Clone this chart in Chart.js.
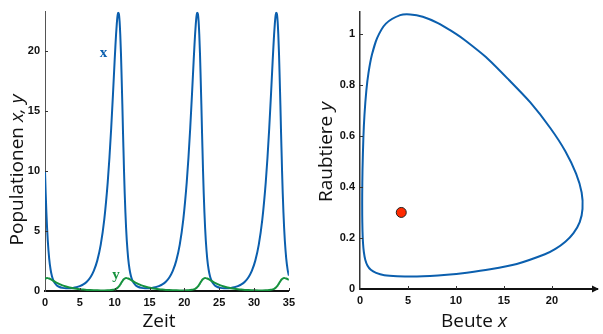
<!DOCTYPE html>
<html><head><meta charset="utf-8">
<script src="https://cdn.jsdelivr.net/npm/chart.js@4"></script>
<style>
html,body{margin:0;padding:0;background:#fff;}
#wrap{position:relative;width:603px;height:334px;overflow:hidden;background:#fff;}
#c1{position:absolute;left:0;top:0;}
#c2{position:absolute;left:300px;top:0;}
</style></head><body>
<div id="wrap">
<canvas id="c1" width="300" height="334"></canvas>
<canvas id="c2" width="303" height="334"></canvas>
</div>
<script>
// Zeit (time)
const time = [
 0, 0.1, 0.2, 0.3, 0.4, 0.6, 0.8, 1.0, 1.2, 1.4, 1.7, 2.0, 2.5, 3.0, 3.5, 4.0, 4.5, 5.0, 5.5, 6.0, 6.5, 7.0, 7.5, 8.0, 8.5, 9.0, 9.25, 9.5, 9.75, 10.0, 10.1, 10.2, 10.3, 10.4, 10.5, 10.6, 10.7, 10.8, 10.9, 11.0, 11.1, 11.2, 11.3,
 11.34, 11.44, 11.54, 11.64, 11.74, 11.94, 12.14, 12.34, 12.54, 12.74, 13.04, 13.34, 13.84, 14.34, 14.84, 15.34, 15.84, 16.34, 16.84, 17.34, 17.84, 18.34, 18.84, 19.34, 19.84, 20.34, 20.59, 20.84, 21.09, 21.34, 21.44, 21.54, 21.64, 21.74, 21.84, 21.94, 22.04, 22.14, 22.24, 22.34, 22.44, 22.54, 22.64,
 22.68, 22.78, 22.88, 22.98, 23.08, 23.28, 23.48, 23.68, 23.88, 24.08, 24.38, 24.68, 25.18, 25.68, 26.18, 26.68, 27.18, 27.68, 28.18, 28.68, 29.18, 29.68, 30.18, 30.68, 31.18, 31.68, 31.93, 32.18, 32.43, 32.68, 32.78, 32.88, 32.98, 33.08, 33.18, 33.28, 33.38, 33.48, 33.58, 33.68, 33.78, 33.88, 33.98,
 34.02, 34.12, 34.22, 34.32, 34.42, 34.62, 34.82, 35.0
];
// Beute x (prey)
const prey = [
 10, 8.124, 6.537, 5.233, 4.186, 2.700, 1.792, 1.235, 0.888, 0.665, 0.465, 0.353, 0.262, 0.230, 0.231, 0.258, 0.312, 0.404, 0.548, 0.774, 1.127, 1.676, 2.532, 3.866, 5.928, 9.060, 11.13, 13.57, 16.34, 19.27, 20.37, 21.40, 22.25, 22.90, 23.19, 23.10, 22.52, 21.40, 19.83, 17.75, 15.55, 13.12, 10.94,
 10, 8.124, 6.537, 5.233, 4.186, 2.700, 1.792, 1.235, 0.888, 0.665, 0.465, 0.353, 0.262, 0.230, 0.231, 0.258, 0.312, 0.404, 0.548, 0.774, 1.127, 1.676, 2.532, 3.866, 5.928, 9.060, 11.13, 13.57, 16.34, 19.27, 20.37, 21.40, 22.25, 22.90, 23.19, 23.10, 22.52, 21.40, 19.83, 17.75, 15.55, 13.12, 10.94,
 10, 8.124, 6.537, 5.233, 4.186, 2.700, 1.792, 1.235, 0.888, 0.665, 0.465, 0.353, 0.262, 0.230, 0.231, 0.258, 0.312, 0.404, 0.548, 0.774, 1.127, 1.676, 2.532, 3.866, 5.928, 9.060, 11.13, 13.57, 16.34, 19.27, 20.37, 21.40, 22.25, 22.90, 23.19, 23.10, 22.52, 21.40, 19.83, 17.75, 15.55, 13.12, 10.94,
 10, 8.124, 6.537, 5.233, 4.186, 2.700, 1.792, 1.279
];
// Raubtiere y (predator)
const predator = [
 1.000, 1.042, 1.067, 1.076, 1.073, 1.040, 0.984, 0.917, 0.848, 0.779, 0.682, 0.594, 0.469, 0.370, 0.291, 0.230, 0.181, 0.144, 0.115, 0.092, 0.075, 0.063, 0.054, 0.050, 0.049, 0.056, 0.064, 0.077, 0.098, 0.136, 0.157, 0.185, 0.219, 0.262, 0.314, 0.378, 0.452, 0.540, 0.631, 0.731, 0.818, 0.909, 0.975,
 1.000, 1.042, 1.067, 1.076, 1.073, 1.040, 0.984, 0.917, 0.848, 0.779, 0.682, 0.594, 0.469, 0.370, 0.291, 0.230, 0.181, 0.144, 0.115, 0.092, 0.075, 0.063, 0.054, 0.050, 0.049, 0.056, 0.064, 0.077, 0.098, 0.136, 0.157, 0.185, 0.219, 0.262, 0.314, 0.378, 0.452, 0.540, 0.631, 0.731, 0.818, 0.909, 0.975,
 1.000, 1.042, 1.067, 1.076, 1.073, 1.040, 0.984, 0.917, 0.848, 0.779, 0.682, 0.594, 0.469, 0.370, 0.291, 0.230, 0.181, 0.144, 0.115, 0.092, 0.075, 0.063, 0.054, 0.050, 0.049, 0.056, 0.064, 0.077, 0.098, 0.136, 0.157, 0.185, 0.219, 0.262, 0.314, 0.378, 0.452, 0.540, 0.631, 0.731, 0.818, 0.909, 0.975,
 1.000, 1.042, 1.067, 1.076, 1.073, 1.040, 0.984, 0.923
];
const timeTicks = [0, 5, 10, 15, 20, 25, 30, 35];
const popTicks = [0, 5, 10, 15, 20];
const preyTicks = [0, 5, 10, 15, 20];
const predTicks = [0, 0.2, 0.4, 0.6, 0.8, 1];
const equilibrium = [{x: 4.3, y: 0.3}];

const BLUE = '#0b5fae';
const GREEN = '#16923e';
const TICKFONT = {family: '"Liberation Sans", Arial, sans-serif', weight: 'bold', size: 11};
const TITLEFONT = '"Open Sans", "Noto Sans", sans-serif';

function setTicks(arr) { return s => { s.ticks = arr.map(v => ({value: v})); }; }

function drawMixed(ctx, parts, x, y, rotate) {
  ctx.save();
  ctx.translate(x, y);
  if (rotate) ctx.rotate(-Math.PI / 2);
  let total = 0;
  parts.forEach(p => { ctx.font = p.font; p.w = ctx.measureText(p.text).width; total += p.w; });
  let cx = -total / 2;
  ctx.textBaseline = 'alphabetic';
  ctx.textAlign = 'left';
  ctx.fillStyle = '#111';
  parts.forEach(p => { ctx.font = p.font; ctx.fillText(p.text, cx, 0); cx += p.w; });
  ctx.restore();
}

function innerTicks(chart, xt, yt) {
  const ctx = chart.ctx, xs = chart.scales.x, ys = chart.scales.y;
  const a = chart.chartArea;
  ctx.save();
  ctx.strokeStyle = '#333';
  ctx.lineWidth = 1;
  ctx.beginPath();
  xt.forEach(v => { if (v === 0) return; const px = Math.round(xs.getPixelForValue(v)) + 0.5; ctx.moveTo(px, a.bottom); ctx.lineTo(px, a.bottom - 3); });
  yt.forEach(v => { if (v === 0) return; const py = Math.round(ys.getPixelForValue(v)) + 0.5; ctx.moveTo(a.left, py); ctx.lineTo(a.left + 3, py); });
  ctx.stroke();
  ctx.restore();
}

const reg = `19px ${TITLEFONT}`;
const ital = `italic 19px ${TITLEFONT}`;

// ---------- Left chart: time series ----------
new Chart(document.getElementById('c1'), {
  type: 'line',
  data: {
    datasets: [
      {label: 'y', data: time.map((t, i) => ({x: t, y: predator[i]})), borderColor: GREEN, borderWidth: 2, pointRadius: 0, cubicInterpolationMode: 'monotone', fill: false},
      {label: 'x', data: time.map((t, i) => ({x: t, y: prey[i]})), borderColor: BLUE, borderWidth: 2, pointRadius: 0, cubicInterpolationMode: 'monotone', fill: false}
    ]
  },
  options: {
    responsive: false, animation: false, parsing: false,
    layout: {padding: {left: 0, right: 10, top: 8, bottom: 0}},
    plugins: {legend: {display: false}, tooltip: {enabled: false}},
    scales: {
      x: {type: 'linear', min: 0, max: 35, afterBuildTicks: setTicks(timeTicks), afterFit: s => { s.height = 43; },
          grid: {display: false, drawTicks: false}, border: {display: true, color: '#111', width: 2},
          ticks: {padding: 5, font: TICKFONT, color: '#111', maxRotation: 0, autoSkip: false, callback: v => String(v)}},
      y: {type: 'linear', min: 0, max: 23.29, afterBuildTicks: setTicks(popTicks), afterFit: s => { s.width = 45; },
          grid: {display: false, drawTicks: false}, border: {display: true, color: '#555', width: 1},
          ticks: {padding: 5, font: TICKFONT, color: '#111', autoSkip: false, callback: v => String(v)}}
    }
  },
  plugins: [{
    id: 'deco1',
    afterDraw(chart) {
      const ctx = chart.ctx;
      innerTicks(chart, timeTicks, popTicks);
      drawMixed(ctx, [{text: 'Populationen ', font: reg}, {text: 'x, y', font: ital}], 23, 170, true);
      drawMixed(ctx, [{text: 'Zeit', font: reg}], 159, 327, false);
      ctx.save();
      ctx.font = 'bold 15px "Liberation Serif", "Times New Roman", serif';
      ctx.textAlign = 'center';
      ctx.textBaseline = 'alphabetic';
      ctx.fillStyle = BLUE;
      ctx.fillText('x', 103.5, 57);
      ctx.fillStyle = GREEN;
      ctx.fillText('y', 116, 279);
      ctx.restore();
    }
  }]
});

// ---------- Right chart: phase portrait ----------
new Chart(document.getElementById('c2'), {
  type: 'scatter',
  data: {
    datasets: [
      {label: 'Gleichgewicht', data: equilibrium, pointRadius: 5, backgroundColor: '#ff2a00', borderColor: '#222', borderWidth: 1, showLine: false},
      {label: 'Bahn', data: prey.map((v, i) => ({x: v, y: predator[i]})), showLine: true, borderColor: BLUE, borderWidth: 2, pointRadius: 0, tension: 0.25, fill: false}
    ]
  },
  options: {
    responsive: false, animation: false, parsing: false,
    layout: {padding: {left: 0, right: 3, top: 10, bottom: 0}},
    plugins: {legend: {display: false}, tooltip: {enabled: false}},
    scales: {
      x: {type: 'linear', min: 0, max: 24.7, afterBuildTicks: setTicks(preyTicks), afterFit: s => { s.height = 45; },
          grid: {display: false, drawTicks: false}, border: {display: true, color: '#111', width: 2},
          ticks: {padding: 5, font: TICKFONT, color: '#111', maxRotation: 0, autoSkip: false, callback: v => String(v)}},
      y: {type: 'linear', min: 0, max: 1.087, afterBuildTicks: setTicks(predTicks), afterFit: s => { s.width = 60; },
          grid: {display: false, drawTicks: false}, border: {display: true, color: '#333', width: 1.5},
          ticks: {padding: 5, font: TICKFONT, color: '#111', autoSkip: false, callback: v => String(v)}}
    }
  },
  plugins: [{
    id: 'deco2',
    afterDraw(chart) {
      const ctx = chart.ctx, a = chart.chartArea;
      innerTicks(chart, preyTicks, predTicks);
      ctx.save();
      ctx.fillStyle = '#111';
      ctx.beginPath();
      ctx.moveTo(a.right + 2, a.bottom);
      ctx.lineTo(a.right - 5, a.bottom - 3.5);
      ctx.lineTo(a.right - 5, a.bottom + 3.5);
      ctx.closePath();
      ctx.fill();
      ctx.restore();
      drawMixed(ctx, [{text: 'Raubtiere ', font: reg}, {text: 'y', font: ital}], 32, 152, true);
      drawMixed(ctx, [{text: 'Beute ', font: reg}, {text: 'x', font: ital}], 174, 327, false);
    }
  }]
});
</script>
</body></html>
